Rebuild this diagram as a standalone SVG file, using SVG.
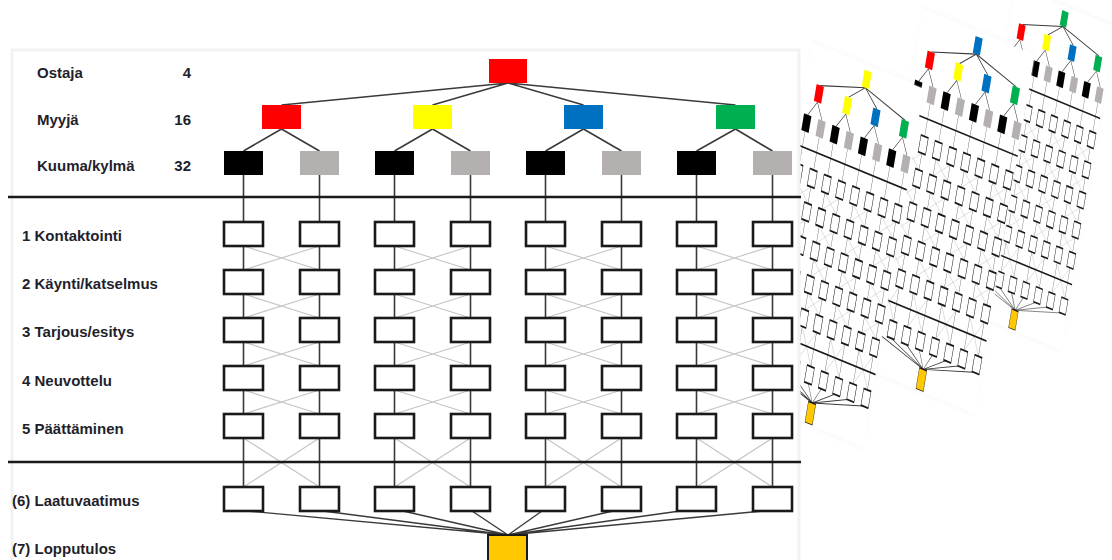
<svg xmlns="http://www.w3.org/2000/svg" xmlns:xlink="http://www.w3.org/1999/xlink" width="1112" height="560" viewBox="0 0 1112 560">
<style>
.lbl{font-family:"Liberation Sans",Arial,sans-serif;font-weight:bold;font-size:15px;fill:#1f1f2c}
.num{text-anchor:end}
.tree{stroke:#3a3a3a;stroke-width:1.6;fill:none}
.vert{stroke:#3a3a3a;stroke-width:1.6;fill:none}
.cross{stroke:#c4c4c4;stroke-width:1.1;fill:none}
.fan{stroke:#3a3a3a;stroke-width:1.4;fill:none}
.sep{stroke:#1a1a1a;stroke-width:2.4;fill:none}
.box{fill:#ffffff;stroke:#1a1a1a;stroke-width:2.6}
.root{fill:var(--rc,#ff0000)}
.red{fill:#ff0000}.yel{fill:#ffff00}.blu{fill:#0070c0}.grn{fill:#00b050}
.blk{fill:#000000}.gry{fill:#b4b0b0}
.fin{fill:#ffc800;stroke:#1a1a1a;stroke-width:2}
.panel{fill:#ffffff;stroke:#f2f2f2;stroke-width:3}
.cpanel{fill:#ffffff}
</style>
<defs>
<filter id="sh" x="-10%" y="-10%" width="120%" height="120%">
<feDropShadow dx="0" dy="0" stdDeviation="5" flood-color="#000" flood-opacity="0.05"/>
</filter>
<clipPath id="cc" clipPathUnits="userSpaceOnUse"><rect x="205" y="52" width="596" height="513"/></clipPath>
</defs>
<rect width="1112" height="560" fill="#ffffff"/>

<g id="copy3" transform="matrix(0.1687 0.0695 -0.1058 0.628 986 -61)">
<rect class="cpanel" x="205" y="52" width="596" height="513" filter="url(#sh)"/>
<use href="#body" clip-path="url(#cc)" style="--rc:#00b050"/>
</g>
<g id="copy2" transform="matrix(0.1874 0.0772 -0.1176 0.6975 890.9 -43)">
<rect class="cpanel" x="205" y="52" width="596" height="513" filter="url(#sh)"/>
<use href="#body" clip-path="url(#cc)" style="--rc:#0070c0"/>
</g>
<g id="copy1" transform="matrix(0.1874 0.0772 -0.1176 0.6975 779.9 -9.4)">
<rect class="cpanel" x="205" y="52" width="596" height="513" filter="url(#sh)"/>
<use href="#body" clip-path="url(#cc)" style="--rc:#ffff00"/>
</g>

<rect id="main-panel" class="panel" x="12" y="50" width="787" height="520"/>

<g id="labels">
<text class="lbl" x="37" y="78">Ostaja</text>
<text class="lbl num" x="191" y="78">4</text>
<text class="lbl" x="37" y="124.5">Myyjä</text>
<text class="lbl num" x="191" y="124.5">16</text>
<text class="lbl" x="37" y="170.5">Kuuma/kylmä</text>
<text class="lbl num" x="191" y="170.5">32</text>
<text class="lbl" x="22" y="240.5">1 Kontaktointi</text>
<text class="lbl" x="22" y="288.5">2 Käynti/katselmus</text>
<text class="lbl" x="22" y="337">3 Tarjous/esitys</text>
<text class="lbl" x="22" y="385.5">4 Neuvottelu</text>
<text class="lbl" x="22" y="433.5">5 Päättäminen</text>
<text class="lbl" x="12" y="506">(6) Laatuvaatimus</text>
<text class="lbl" x="12" y="553.5">(7) Lopputulos</text>
</g>

<g id="body">
<g id="connectors">
<path class="tree" d="M508 83L281.5 105M508 83L432.5 105M508 83L583.5 105M508 83L735.5 105M281.5 129L243.5 151M281.5 129L319.5 151M432.5 129L394.5 151M432.5 129L470.5 151M583.5 129L545.5 151M583.5 129L621.5 151M735.5 129L696.5 151M735.5 129L772.5 151"/>
<path class="vert" d="M243.5 175V487M319.5 175V487M394.5 175V487M470.5 175V487M545.5 175V487M621.5 175V487M696.5 175V487M772.5 175V487"/>
<g id="crosses">
<path id="cx1" class="cross" d="M243.5 246L319.5 270M319.5 246L243.5 270M243.5 294L319.5 318M319.5 294L243.5 318M243.5 342L319.5 366M319.5 342L243.5 366M243.5 390L319.5 414M319.5 390L243.5 414M243.5 438L319.5 487M319.5 438L243.5 487"/>
<use href="#cx1" transform="translate(151 0)"/>
<use href="#cx1" transform="translate(302 0)"/>
<use href="#cx1" transform="translate(453 0)"/>
</g>
<path class="fan" d="M247 511L508 535M323 511L508 535M403 511L508 535M472 511L508 535M542 511L508 535M613 511L508 535M680 511L508 535M763 511L508 535"/>
<path class="sep" d="M8 197H801M8 462H801"/>
</g>
<g id="nodes">
<g id="ostaja"><rect class="root" x="489" y="59" width="38" height="24"/></g>
<g id="myyja-1"><rect class="red" x="262" y="105" width="39" height="24"/></g>
<g id="myyja-2"><rect class="yel" x="413" y="105" width="39" height="24"/></g>
<g id="myyja-3"><rect class="blu" x="564" y="105" width="39" height="24"/></g>
<g id="myyja-4"><rect class="grn" x="716" y="105" width="39" height="24"/></g>
<g id="km-1"><rect class="blk" x="224" y="151" width="39" height="24"/></g>
<g id="km-2"><rect class="gry" x="300" y="151" width="39" height="24"/></g>
<g id="km-3"><rect class="blk" x="375" y="151" width="39" height="24"/></g>
<g id="km-4"><rect class="gry" x="451" y="151" width="39" height="24"/></g>
<g id="km-5"><rect class="blk" x="526" y="151" width="39" height="24"/></g>
<g id="km-6"><rect class="gry" x="602" y="151" width="39" height="24"/></g>
<g id="km-7"><rect class="blk" x="677" y="151" width="39" height="24"/></g>
<g id="km-8"><rect class="gry" x="753" y="151" width="39" height="24"/></g>
<g id="r1-1"><rect class="box" x="224" y="222" width="39" height="24"/></g>
<g id="r1-2"><rect class="box" x="300" y="222" width="39" height="24"/></g>
<g id="r1-3"><rect class="box" x="375" y="222" width="39" height="24"/></g>
<g id="r1-4"><rect class="box" x="451" y="222" width="39" height="24"/></g>
<g id="r1-5"><rect class="box" x="526" y="222" width="39" height="24"/></g>
<g id="r1-6"><rect class="box" x="602" y="222" width="39" height="24"/></g>
<g id="r1-7"><rect class="box" x="677" y="222" width="39" height="24"/></g>
<g id="r1-8"><rect class="box" x="753" y="222" width="39" height="24"/></g>
<g id="r2-1"><rect class="box" x="224" y="270" width="39" height="24"/></g>
<g id="r2-2"><rect class="box" x="300" y="270" width="39" height="24"/></g>
<g id="r2-3"><rect class="box" x="375" y="270" width="39" height="24"/></g>
<g id="r2-4"><rect class="box" x="451" y="270" width="39" height="24"/></g>
<g id="r2-5"><rect class="box" x="526" y="270" width="39" height="24"/></g>
<g id="r2-6"><rect class="box" x="602" y="270" width="39" height="24"/></g>
<g id="r2-7"><rect class="box" x="677" y="270" width="39" height="24"/></g>
<g id="r2-8"><rect class="box" x="753" y="270" width="39" height="24"/></g>
<g id="r3-1"><rect class="box" x="224" y="318" width="39" height="24"/></g>
<g id="r3-2"><rect class="box" x="300" y="318" width="39" height="24"/></g>
<g id="r3-3"><rect class="box" x="375" y="318" width="39" height="24"/></g>
<g id="r3-4"><rect class="box" x="451" y="318" width="39" height="24"/></g>
<g id="r3-5"><rect class="box" x="526" y="318" width="39" height="24"/></g>
<g id="r3-6"><rect class="box" x="602" y="318" width="39" height="24"/></g>
<g id="r3-7"><rect class="box" x="677" y="318" width="39" height="24"/></g>
<g id="r3-8"><rect class="box" x="753" y="318" width="39" height="24"/></g>
<g id="r4-1"><rect class="box" x="224" y="366" width="39" height="24"/></g>
<g id="r4-2"><rect class="box" x="300" y="366" width="39" height="24"/></g>
<g id="r4-3"><rect class="box" x="375" y="366" width="39" height="24"/></g>
<g id="r4-4"><rect class="box" x="451" y="366" width="39" height="24"/></g>
<g id="r4-5"><rect class="box" x="526" y="366" width="39" height="24"/></g>
<g id="r4-6"><rect class="box" x="602" y="366" width="39" height="24"/></g>
<g id="r4-7"><rect class="box" x="677" y="366" width="39" height="24"/></g>
<g id="r4-8"><rect class="box" x="753" y="366" width="39" height="24"/></g>
<g id="r5-1"><rect class="box" x="224" y="414" width="39" height="24"/></g>
<g id="r5-2"><rect class="box" x="300" y="414" width="39" height="24"/></g>
<g id="r5-3"><rect class="box" x="375" y="414" width="39" height="24"/></g>
<g id="r5-4"><rect class="box" x="451" y="414" width="39" height="24"/></g>
<g id="r5-5"><rect class="box" x="526" y="414" width="39" height="24"/></g>
<g id="r5-6"><rect class="box" x="602" y="414" width="39" height="24"/></g>
<g id="r5-7"><rect class="box" x="677" y="414" width="39" height="24"/></g>
<g id="r5-8"><rect class="box" x="753" y="414" width="39" height="24"/></g>
<g id="r6-1"><rect class="box" x="224" y="487" width="39" height="24"/></g>
<g id="r6-2"><rect class="box" x="300" y="487" width="39" height="24"/></g>
<g id="r6-3"><rect class="box" x="375" y="487" width="39" height="24"/></g>
<g id="r6-4"><rect class="box" x="451" y="487" width="39" height="24"/></g>
<g id="r6-5"><rect class="box" x="526" y="487" width="39" height="24"/></g>
<g id="r6-6"><rect class="box" x="602" y="487" width="39" height="24"/></g>
<g id="r6-7"><rect class="box" x="677" y="487" width="39" height="24"/></g>
<g id="r6-8"><rect class="box" x="753" y="487" width="39" height="24"/></g>
<g id="lopputulos"><rect class="fin" x="488" y="535" width="39" height="30"/></g>
</g>
</g>
</svg>
